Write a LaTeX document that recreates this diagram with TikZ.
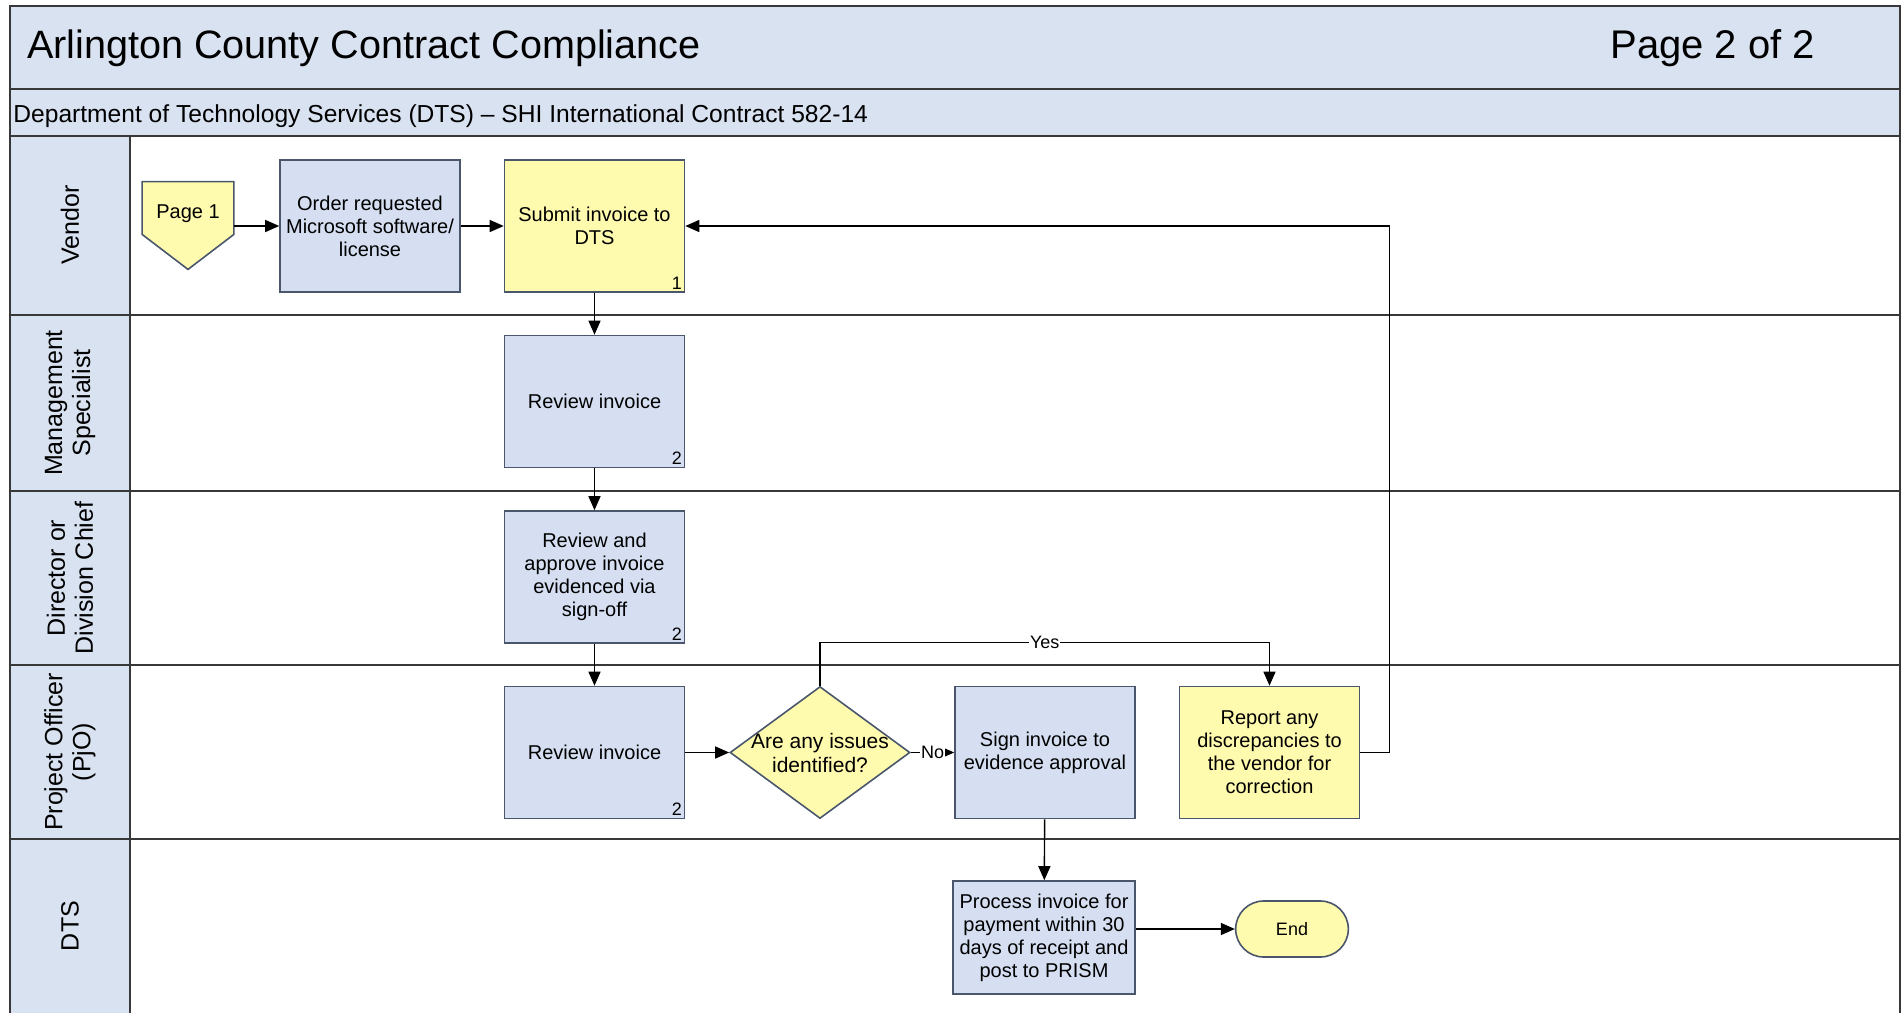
\documentclass[tikz,border=0pt]{standalone}
\usepackage{fontspec}
\setmainfont{Liberation Sans}
\usetikzlibrary{shapes.geometric,shapes.misc,arrows.meta,positioning,calc,backgrounds}
\definecolor{laneblue}{HTML}{D9E2F1}
\definecolor{boxblue}{HTML}{D5DFF1}
\definecolor{noteyellow}{HTML}{FFFBAE}
\definecolor{boxline}{HTML}{4A566C}
\definecolor{laneline}{HTML}{383838}

\tikzset{
  procbox/.style={rectangle, draw=boxline, line width=0.8pt, fill=boxblue,
    minimum width=90pt, minimum height=66pt, inner sep=2pt, align=center,
    font=\fontsize{10}{11.5}\selectfont},
  vendbox/.style={procbox, fill=noteyellow},
  decide/.style={diamond, draw=boxline, line width=0.8pt, fill=noteyellow,
    minimum width=90pt, minimum height=66pt, inner sep=0pt, align=center,
    font=\fontsize{10.5}{12}\selectfont},
  endcap/.style={rounded rectangle, draw=boxline, line width=0.8pt, fill=noteyellow,
    minimum width=63pt, minimum height=28pt, font=\fontsize{9}{10}\selectfont},
  boxno/.style={anchor=south east, inner sep=1.5pt, font=\fontsize{9}{9}\selectfont},
  flow/.style={draw=black, line width=0.7pt, -{Triangle[length=7pt,width=6pt]}},
  answer/.style={fill=white, inner sep=0.5pt, font=\fontsize{9}{10}\selectfont},
  lanelabel/.style={rotate=90, align=center, font=\fontsize{12.5}{14}\selectfont},
  laneedge/.style={draw=laneline, line width=1.1pt}
}

\begin{document}
\begin{tikzpicture}[x=0.5pt,y=-0.5pt]
  \useasboundingbox (0,0) rectangle (1902,1013);

  % Header bars and lane column
  \fill[laneblue] (10,6) rectangle (1900,136);
  \fill[laneblue] (10,136) rectangle (130,1013);
  \draw[laneedge] (10,1013) -- (10,6) -- (1900,6) -- (1900,1013);
  \draw[laneedge] (10,89) -- (1900,89);
  \draw[laneedge] (10,136) -- (1900,136);
  \draw[laneedge] (130,136) -- (130,1013);
  \foreach \y in {315,491,665,839}
    \draw[laneedge] (10,\y) -- (1900,\y);

  \node[anchor=west, font=\fontsize{19.8}{23}\selectfont] (title) at (20,48) {Arlington County Contract Compliance};
  \node[anchor=east, font=\fontsize{20}{23}\selectfont] (pageno) at (1822,48) {Page 2 of 2};
  \node[anchor=west, inner sep=1pt, font=\fontsize{12.3}{14}\selectfont] (subtitle) at (11,116) {Department of Technology Services (DTS) – SHI International Contract 582-14};

  % Lane names
  \node[lanelabel] (vendor) at (70,225) {Vendor};
  \node[lanelabel] (mgmt) at (70,403) {Management\\Specialist};
  \node[lanelabel] (director) at (70,578) {Director or\\Division Chief};
  \node[lanelabel] (pjo) at (70,752) {Project Officer\\(PjO)};
  \node[lanelabel] (dts) at (70,926) {DTS};

  % Vendor lane
  \node[minimum width=45.5pt, minimum height=26pt, inner sep=0pt,
        font=\fontsize{10}{11.5}\selectfont] (page1) at (188,214) {Page 1};
  \begin{scope}[on background layer]
    \draw[boxline, line width=0.8pt, fill=noteyellow]
      ([yshift=3pt]page1.north west) -- ([yshift=3pt]page1.north east)
      -- ([yshift=3pt]page1.south east) -- ([yshift=-14.5pt]page1.south)
      -- ([yshift=3pt]page1.south west) -- cycle;
  \end{scope}
  \node[procbox] (order) at (370,226) {Order requested\\Microsoft software/\\license};
  \node[vendbox, label={[boxno]south east:1}] (submit) at (594.5,226) {Submit invoice to\\DTS};

  % Management Specialist and Director lanes
  \node[procbox, label={[boxno]south east:2}] (msreview) at (594.5,401.5) {Review invoice};
  \node[procbox, label={[boxno]south east:2}] (approve) at (594.5,577) {Review and\\approve invoice\\evidenced via\\sign-off};

  % Project Officer lane
  \node[procbox, label={[boxno]south east:2}] (pjreview) at (594.5,752.5) {Review invoice};
  \node[decide] (issues) at (820,752.5) {\makebox[0pt]{Are any issues}\\\makebox[0pt]{identified?}};
  \node[procbox] (sign) at (1045,752.5) {Sign invoice to\\evidence approval};
  \node[vendbox] (report) at (1269.5,752.5) {Report any\\discrepancies to\\the vendor for\\correction};

  % DTS lane
  \node[procbox, minimum width=91pt, minimum height=56.5pt] (process) at (1044,937.5) {Process invoice for\\payment within 30\\days of receipt and\\post to PRISM};
  \node[endcap] (finish) at (1292,929) {End};

  % Arrows
  \draw[flow] (page1.east |- order.west) -- (order.west);
  \draw[flow] (order) -- (submit);
  \draw[flow] (submit) -- (msreview);
  \draw[flow] (msreview) -- (approve);
  \draw[flow] (approve) -- (pjreview);
  \draw[flow] (pjreview) -- (issues);
  \draw[flow] (issues) -- (sign) node[midway, answer] {No};
  \draw[flow] (issues.north) -- ++(0,-43) -| (report.north) node[pos=0.25, answer] {Yes};
  \draw[flow] (report.east) -- ++(29,0) |- (submit.east);
  \draw[flow] (sign) -- (process);
  \draw[flow] (process.east |- finish.west) -- (finish.west);
\end{tikzpicture}
\end{document}
